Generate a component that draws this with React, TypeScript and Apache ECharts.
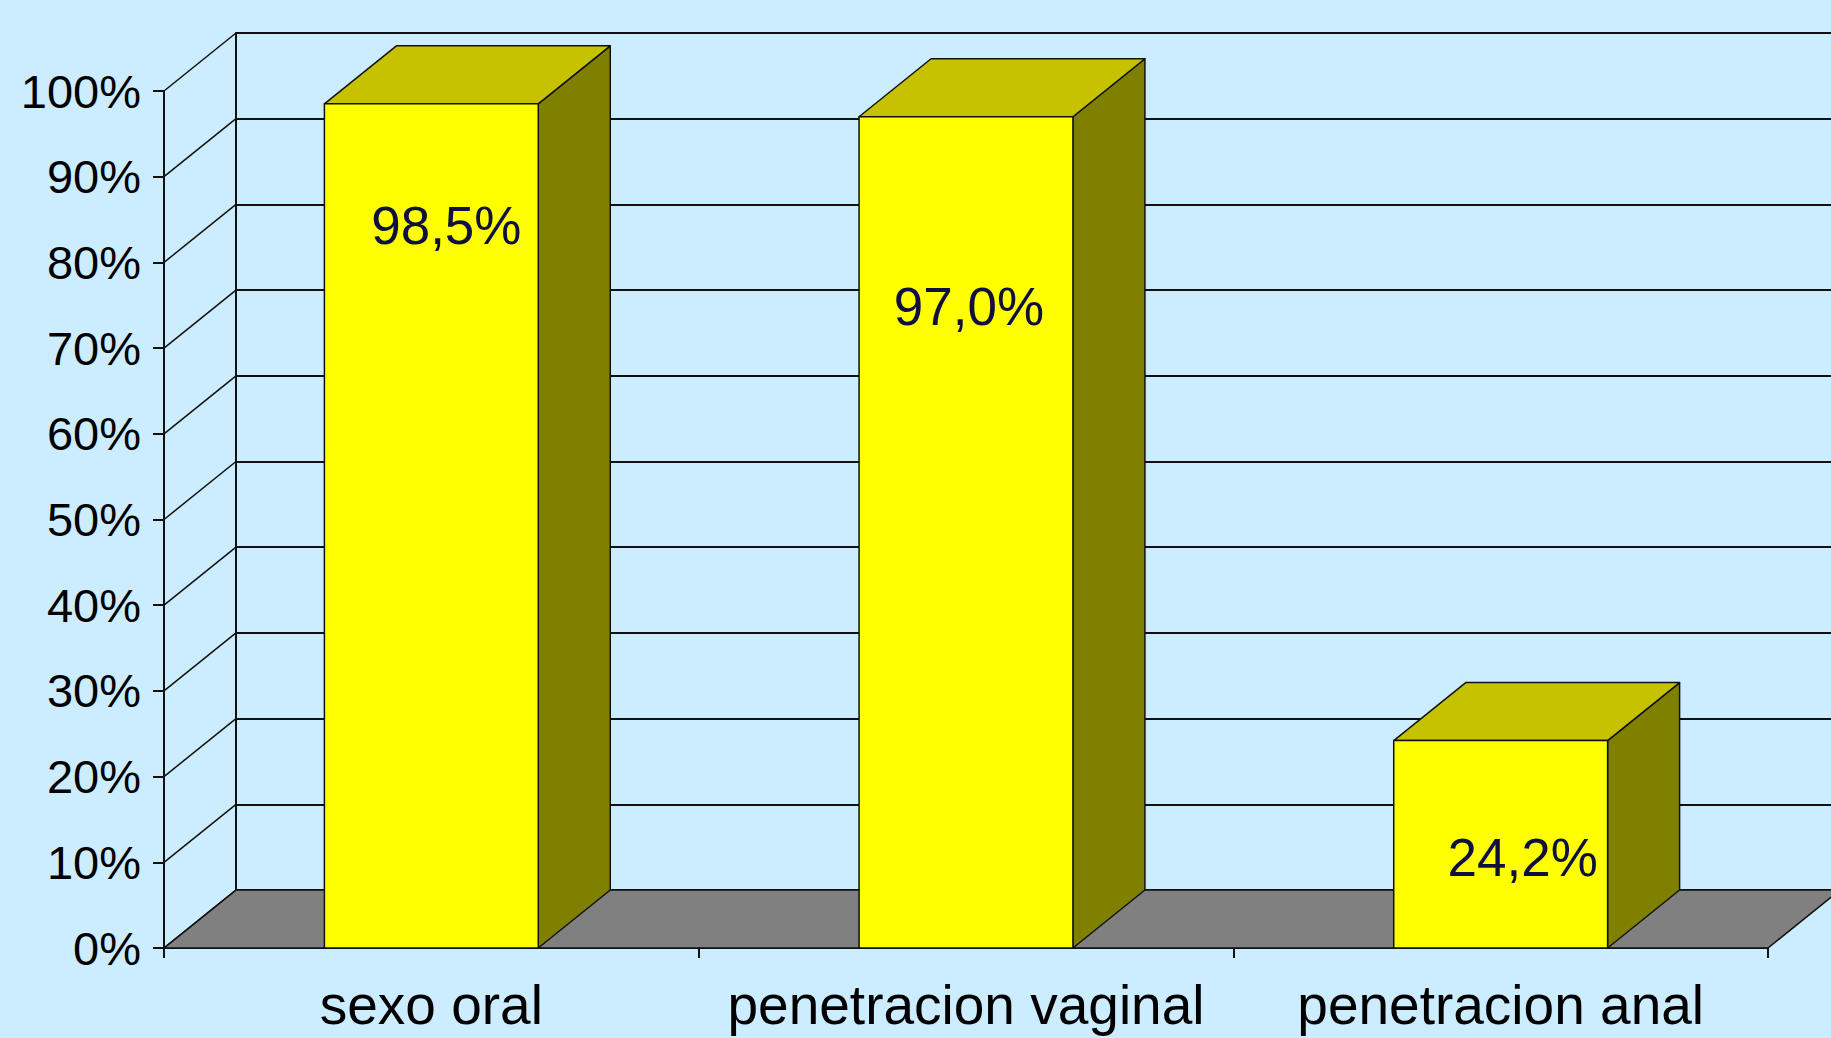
import React, { useEffect, useRef } from "react";
import * as echarts from "echarts";

// ---- data ----
const CATEGORIES = ["sexo oral", "penetracion vaginal", "penetracion anal"];
const VALUES = [98.5, 97.0, 24.2];
const Y_TICKS = [0, 10, 20, 30, 40, 50, 60, 70, 80, 90, 100];
// where each value label sits, in value-axis units, and a small horizontal nudge (px)
const LABEL_AT = [84.3, 74.9, 10.6];
const LABEL_SHIFT = [15, 3, 22];

// ---- style ----
const BG = "#CCECFF";
const INK = "#111111";
const FRONT = "#FFFF00";
const TOP = "#C6C200";
const SIDE = "#808000";
const FLOOR = "#808080";
const LABEL_COLOR = "#10103E";
const FONT = "'Liberation Sans', Arial, Helvetica, sans-serif";
const DX = 72;
const DY = -58;
const BAR_RATIO = 0.4;

const fmt = (v: number) => v.toFixed(1).replace(".", ",") + "%";

export default function App() {
  const ref = useRef<HTMLDivElement>(null);

  useEffect(() => {
    document.body.style.margin = "0";
    document.body.style.background = BG;
    const chart = echarts.init(ref.current!, undefined, { renderer: "svg" });

    const option: any = {
      animation: false,
      backgroundColor: BG,
      grid: [
        { left: 164, top: 91, width: 1604, height: 857 },
        { left: 164 + DX, top: 91 + DY, width: 1604, height: 857 },
      ],
      xAxis: [
        {
          type: "category",
          gridIndex: 0,
          data: CATEGORIES,
          axisLine: { show: true, lineStyle: { color: INK, width: 2 } },
          axisTick: { show: true, interval: 0, length: 10, lineStyle: { color: INK, width: 2 } },
          axisLabel: {
            interval: 0,
            hideOverlap: false,
            fontSize: 55,
            color: "#000",
            margin: 29,
            fontFamily: FONT,
          },
          splitLine: { show: false },
        },
        { type: "category", gridIndex: 1, data: CATEGORIES, show: false },
      ],
      yAxis: [
        {
          type: "value",
          gridIndex: 0,
          min: 0,
          max: 100,
          interval: 10,
          axisLine: { show: true, lineStyle: { color: INK, width: 2 } },
          axisTick: { show: true, length: 11, lineStyle: { color: INK, width: 2 } },
          axisLabel: { formatter: "{value}%", fontSize: 47, color: "#000", margin: 23, fontFamily: FONT },
          splitLine: { show: false },
        },
        {
          type: "value",
          gridIndex: 1,
          min: 0,
          max: 100,
          interval: 10,
          axisLine: { show: true, lineStyle: { color: INK, width: 2 } },
          axisTick: { show: false },
          axisLabel: { show: false },
          splitLine: { show: true, lineStyle: { color: INK, width: 2 } },
        },
      ],
      series: [
        {
          type: "custom",
          name: "floor",
          xAxisIndex: 0,
          yAxisIndex: 0,
          clip: false,
          silent: true,
          z: 2,
          data: [[0, 0]],
          renderItem: (params: any, api: any) => {
            const band = api.size([1, 0])[0];
            const l = api.coord([0, 0]);
            const r = api.coord([CATEGORIES.length - 1, 0]);
            const x0 = l[0] - band / 2;
            const x1 = r[0] + band / 2;
            const y = l[1];
            return {
              type: "polygon",
              shape: { points: [[x0, y], [x1, y], [x1 + DX, y + DY], [x0 + DX, y + DY]] },
              style: { fill: FLOOR, stroke: INK, lineWidth: 1.5 },
            };
          },
        },
        {
          type: "custom",
          name: "side wall",
          xAxisIndex: 0,
          yAxisIndex: 0,
          clip: false,
          silent: true,
          z: 3,
          data: Y_TICKS.map((t) => [0, t]),
          renderItem: (params: any, api: any) => {
            const band = api.size([1, 0])[0];
            const p = api.coord([0, api.value(1)]);
            const x = p[0] - band / 2;
            return {
              type: "line",
              shape: { x1: x, y1: p[1], x2: x + DX, y2: p[1] + DY },
              style: { stroke: INK, lineWidth: 1.5 },
            };
          },
        },
        {
          type: "custom",
          name: "bars",
          xAxisIndex: 0,
          yAxisIndex: 0,
          clip: false,
          z: 4,
          data: VALUES.map((v, i) => [i, v]),
          renderItem: (params: any, api: any) => {
            const i = params.dataIndex;
            const v = api.value(1);
            const top = api.coord([api.value(0), v]);
            const base = api.coord([api.value(0), 0]);
            const bw = api.size([1, 0])[0] * BAR_RATIO;
            const xl = top[0] - bw / 2;
            const xr = top[0] + bw / 2;
            const yt = top[1];
            const yb = base[1];
            const lab = api.coord([api.value(0), LABEL_AT[i]]);
            const edge = { stroke: INK, lineWidth: 1.5, lineJoin: "round" };
            return {
              type: "group",
              children: [
                {
                  type: "polygon",
                  shape: { points: [[xr, yt], [xr + DX, yt + DY], [xr + DX, yb + DY], [xr, yb]] },
                  style: { fill: SIDE, ...edge },
                },
                {
                  type: "polygon",
                  shape: { points: [[xl, yt], [xr, yt], [xr + DX, yt + DY], [xl + DX, yt + DY]] },
                  style: { fill: TOP, ...edge },
                },
                {
                  type: "rect",
                  shape: { x: xl, y: yt, width: bw, height: yb - yt },
                  style: { fill: FRONT, ...edge },
                },
                {
                  type: "text",
                  x: lab[0] + LABEL_SHIFT[i],
                  y: lab[1],
                  style: {
                    text: fmt(v),
                    fontSize: 53,
                    fontFamily: FONT,
                    fill: LABEL_COLOR,
                    align: "center",
                    verticalAlign: "middle",
                  },
                },
              ],
            };
          },
        },
      ],
    };

    chart.setOption(option);
    return () => chart.dispose();
  }, []);

  return (
    <div
      ref={ref}
      style={{ position: "fixed", left: 0, top: 0, width: 1831, height: 1038, background: BG }}
    />
  );
}
